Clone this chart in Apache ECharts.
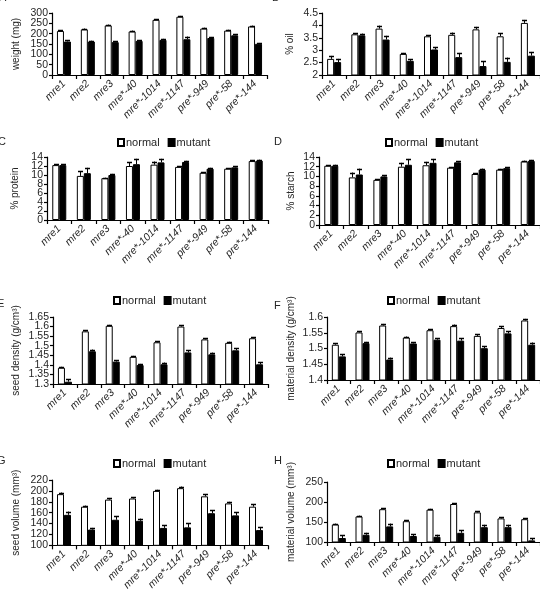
<!DOCTYPE html>
<html>
<head>
<meta charset="utf-8">
<script src="https://cdn.jsdelivr.net/npm/echarts@6/dist/echarts.min.js"></script>
<style>
  html, body { margin: 0; padding: 0; background: #fff; }
  #chart { width: 540px; height: 593px; }
</style>
</head>
<body>
<div id="chart"></div>
<script>
var categories = ['mre1', 'mre2', 'mre3', 'mre*-40', 'mre*-1014', 'mre*-1147', 'pre*-949', 'pre*-58', 'pre*-144'];

var weightTicks = [0, 50, 100, 150, 200, 250, 300];
var weightNormal = [213, 221, 240, 211, 267, 282, 225, 215, 235];
var weightNormalErr = [4, 4, 4, 4, 4, 4, 4, 4, 4];
var weightMutant = [162, 162, 159, 165, 170, 173, 179, 192, 151];
var weightMutantErr = [5, 4, 4, 4, 5, 13, 5, 6, 4];

var oilTicks = [2, 2.5, 3, 3.5, 4, 4.5];
var oilNormal = [2.65, 3.64, 3.87, 2.85, 3.56, 3.62, 3.84, 3.56, 4.1];
var oilNormalErr = [0.12, 0.05, 0.12, 0.04, 0.05, 0.09, 0.1, 0.12, 0.12];
var oilMutant = [2.52, 3.6, 3.43, 2.57, 3.03, 2.72, 2.36, 2.53, 2.78];
var oilMutantErr = [0.13, 0.07, 0.15, 0.06, 0.1, 0.17, 0.19, 0.17, 0.15];

var percentTicks = [0, 2, 4, 6, 8, 10, 12, 14];
var proteinNormal = [12.2, 9.8, 9.3, 12.0, 12.3, 11.8, 10.5, 11.4, 13.1];
var proteinNormalErr = [0.15, 1.0, 0.1, 0.8, 0.7, 0.15, 0.15, 0.15, 0.15];
var proteinMutant = [12.2, 10.4, 10.0, 12.4, 12.8, 12.9, 11.4, 11.7, 13.2];
var proteinMutantErr = [0.2, 1.2, 0.25, 1.2, 0.8, 0.25, 0.2, 0.2, 0.2];

var starchNormal = [12.2, 9.8, 9.3, 12.0, 12.3, 11.8, 10.5, 11.4, 13.1];
var starchNormalErr = [0.15, 1.0, 0.1, 0.8, 0.7, 0.15, 0.15, 0.15, 0.15];
var starchMutant = [12.2, 10.4, 10.0, 12.4, 12.8, 12.9, 11.4, 11.7, 13.2];
var starchMutantErr = [0.2, 1.2, 0.25, 1.2, 0.8, 0.25, 0.2, 0.2, 0.2];

var seedDensityTicks = [1.3, 1.35, 1.4, 1.45, 1.5, 1.55, 1.6, 1.65];
var seedDensityNormal = [1.385, 1.575, 1.604, 1.442, 1.518, 1.6, 1.533, 1.515, 1.539];
var seedDensityNormalErr = [0.005, 0.005, 0.005, 0.005, 0.005, 0.007, 0.005, 0.006, 0.005];
var seedDensityMutant = [1.312, 1.471, 1.417, 1.399, 1.403, 1.465, 1.455, 1.476, 1.403];
var seedDensityMutantErr = [0.012, 0.009, 0.008, 0.006, 0.009, 0.012, 0.009, 0.01, 0.01];

var matDensityTicks = [1.4, 1.45, 1.5, 1.55, 1.6];
var matDensityNormal = [1.512, 1.551, 1.573, 1.535, 1.558, 1.571, 1.54, 1.565, 1.589];
var matDensityNormalErr = [0.004, 0.003, 0.005, 0.003, 0.003, 0.005, 0.005, 0.005, 0.005];
var matDensityMutant = [1.475, 1.517, 1.465, 1.516, 1.528, 1.525, 1.501, 1.548, 1.512];
var matDensityMutantErr = [0.007, 0.004, 0.006, 0.004, 0.004, 0.008, 0.007, 0.007, 0.007];

var seedVolumeTicks = [100, 120, 140, 160, 180, 200, 220];
var seedVolumeNormal = [194, 171, 184, 186, 200, 205, 190, 177, 171];
var seedVolumeNormalErr = [3, 2, 3, 2, 2, 3, 4, 3, 4];
var seedVolumeMutant = [156, 129, 147, 145, 132, 133, 159, 155, 128];
var seedVolumeMutantErr = [6, 3, 6, 4, 5, 8, 5, 6, 5];

var matVolumeTicks = [100, 150, 200, 250];
var matVolumeNormal = [144, 164, 182, 152, 181, 195, 174, 159, 157];
var matVolumeNormalErr = [2, 2, 3, 2, 2, 2, 3, 3, 3];
var matVolumeMutant = [110, 118, 139, 115, 113, 123, 137, 137, 104];
var matVolumeMutantErr = [7, 5, 7, 5, 5, 7, 6, 6, 5];

var textColor = '#262626';
var font = 'Liberation Sans, Arial, sans-serif';

// panel layout: plot box in pixels, name, letter, legend
var panels = [
    {letter: 'A', lx: -1, ly: -8, box: [52, 13, 267, 75], ticks: weightTicks, name: 'weight (mg)', nameGap: 31,
     normal: weightNormal, normalErr: weightNormalErr, mutant: weightMutant, mutantErr: weightMutantErr},
    {letter: 'B', lx: 272, ly: -8, box: [322, 13, 540, 75], ticks: oilTicks, name: '% oil', nameGap: 27,
     normal: oilNormal, normalErr: oilNormalErr, mutant: oilMutant, mutantErr: oilMutantErr},
    {letter: 'C', lx: -2, ly: 136, box: [47, 157, 268, 220], ticks: percentTicks, name: '% protein', nameGap: 27,
     normal: proteinNormal, normalErr: proteinNormalErr, mutant: proteinMutant, mutantErr: proteinMutantErr, legend: [112, 132]},
    {letter: 'D', lx: 274, ly: 136, box: [319, 157, 540, 225], ticks: percentTicks, name: '% starch', nameGap: 23,
     normal: starchNormal, normalErr: starchNormalErr, mutant: starchMutant, mutantErr: starchMutantErr, legend: [380, 132]},
    {letter: 'E', lx: -3, ly: 298, box: [53, 317, 268, 384], ticks: seedDensityTicks, name: 'seed density (g/cm³)', nameGap: 32,
     normal: seedDensityNormal, normalErr: seedDensityNormalErr, mutant: seedDensityMutant, mutantErr: seedDensityMutantErr, legend: [108, 290]},
    {letter: 'F', lx: 274, ly: 300, box: [327, 317, 540, 380], ticks: matDensityTicks, name: 'material density (g/cm³)', nameGap: 31,
     normal: matDensityNormal, normalErr: matDensityNormalErr, mutant: matDensityMutant, mutantErr: matDensityMutantErr, legend: [382, 290]},
    {letter: 'G', lx: -3, ly: 455, box: [52, 480, 268, 548], ticks: seedVolumeTicks, name: 'seed volume (mm³)', nameGap: 31,
     normal: seedVolumeNormal, normalErr: seedVolumeNormalErr, mutant: seedVolumeMutant, mutantErr: seedVolumeMutantErr, legend: [108, 453]},
    {letter: 'H', lx: 274, ly: 455, box: [327, 482, 540, 542], ticks: matVolumeTicks, name: 'material volume (mm³)', nameGap: 31,
     normal: matVolumeNormal, normalErr: matVolumeNormalErr, mutant: matVolumeMutant, mutantErr: matVolumeMutantErr, legend: [382, 453]}
];

function errorSeries(idx, values, errs, shift) {
    return {
        type: 'custom',
        xAxisIndex: idx,
        yAxisIndex: idx,
        silent: true,
        z: 5,
        data: values.map(function (v, i) { return [i, v, errs[i]]; }),
        renderItem: function (params, api) {
            var i = api.value(0), v = api.value(1), e = api.value(2);
            var p0 = api.coord([i, v]);
            var p1 = api.coord([i, v + e]);
            var x = Math.round(p0[0] + shift) + 0.5;
            return {
                type: 'group',
                children: [
                    {type: 'line', shape: {x1: x, y1: p0[1], x2: x, y2: p1[1]}, style: {stroke: '#000', lineWidth: 1}},
                    {type: 'line', shape: {x1: x - 2.5, y1: Math.round(p1[1]) + 0.5, x2: x + 2.5, y2: Math.round(p1[1]) + 0.5}, style: {stroke: '#000', lineWidth: 1.5}}
                ]
            };
        }
    };
}

var grids = [], xAxes = [], yAxes = [], extraYAxes = [], series = [], legends = [], graphics = [];
var labelStyle = {fontSize: 10.5, color: textColor, margin: 4, fontFamily: font, showMinLabel: true, showMaxLabel: true};

panels.forEach(function (p, idx) {
    var lo = p.ticks[0], hi = p.ticks[p.ticks.length - 1];
    // split labels over two stacked axes so the tight ticks are not thinned out
    var evenTicks = p.ticks.filter(function (t, i) { return i % 2 === 0; });
    var oddTicks = p.ticks.filter(function (t, i) { return i % 2 === 1; });
    grids.push({left: p.box[0], top: p.box[1], width: p.box[2] - p.box[0], height: p.box[3] - p.box[1], containLabel: false});
    xAxes.push({
        type: 'category', gridIndex: idx, data: categories,
        axisLine: {lineStyle: {color: '#000', width: 1.2}},
        axisTick: {show: true, interval: 0, length: 4, lineStyle: {color: '#000', width: 1.2}},
        axisLabel: {interval: 0, rotate: 45, margin: 7, fontSize: 10.5, fontStyle: 'italic', color: textColor, fontFamily: font},
        splitLine: {show: false}
    });
    yAxes.push({
        type: 'value', gridIndex: idx, min: lo, max: hi,
        name: p.name, nameLocation: 'middle', nameGap: p.nameGap, nameRotate: 90,
        nameTextStyle: {fontSize: 10, color: textColor, fontFamily: font},
        axisLine: {show: true, lineStyle: {color: '#000', width: 1.2}},
        axisTick: {show: true, length: 3, customValues: p.ticks, lineStyle: {color: '#000', width: 1.2}},
        axisLabel: Object.assign({customValues: evenTicks}, labelStyle),
        splitLine: {show: false}
    });
    extraYAxes.push({
        type: 'value', gridIndex: idx, min: lo, max: hi, position: 'left',
        axisLine: {show: false}, axisTick: {show: false},
        axisLabel: Object.assign({customValues: oddTicks}, labelStyle),
        splitLine: {show: false}
    });
    series.push({
        name: 'normal', type: 'bar', xAxisIndex: idx, yAxisIndex: idx, data: p.normal,
        barWidth: 7, barGap: '0%',
        itemStyle: {color: '#fff', borderColor: '#000', borderWidth: 1}
    });
    series.push({
        name: 'mutant', type: 'bar', xAxisIndex: idx, yAxisIndex: idx, data: p.mutant,
        barWidth: 7, barGap: '0%',
        itemStyle: {color: '#000', borderColor: '#000', borderWidth: 1}
    });
    series.push(errorSeries(idx, p.normal, p.normalErr, -3.5));
    series.push(errorSeries(idx, p.mutant, p.mutantErr, 3.5));
    if (p.legend) {
        legends.push({
            left: p.legend[0], top: p.legend[1], data: ['normal', 'mutant'],
            icon: 'rect', itemWidth: 6, itemHeight: 7, itemGap: 8,
            textStyle: {fontSize: 11, color: textColor, fontFamily: font, padding: [0, 0, 0, -3]},
            selectedMode: false
        });
    }
    graphics.push({
        type: 'text', left: p.lx, top: p.ly,
        style: {text: p.letter, fontSize: 11, fill: textColor, fontFamily: font}
    });
});

var myChart = echarts.init(document.getElementById('chart'));
var option = {
    animation: false,
    backgroundColor: '#fff',
    textStyle: {fontFamily: font},
    grid: grids,
    xAxis: xAxes,
    yAxis: yAxes.concat(extraYAxes),
    legend: legends,
    graphic: graphics,
    series: series
};
myChart.setOption(option);
</script>
</body>
</html>
